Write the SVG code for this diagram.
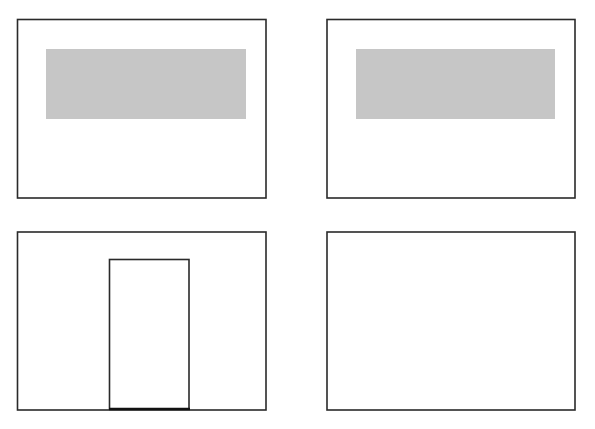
<svg xmlns="http://www.w3.org/2000/svg" width="595" height="429" viewBox="0 0 595 429">
<style>
.frame{fill:#fff;stroke:#2a2a2a;stroke-width:1.6}
.panel{fill:#c6c6c6;stroke:none}
.door{fill:#fff;stroke:#2a2a2a;stroke-width:1.6}
</style>
<rect width="595" height="429" fill="#fff"/>
<g id="view-top-left">
<rect class="frame" x="17.5" y="19.5" width="248.5" height="178.5"/>
<rect class="panel" x="46" y="49" width="200" height="70"/>
</g>
<g id="view-top-right">
<rect class="frame" x="327" y="19.5" width="248" height="178.5"/>
<rect class="panel" x="356" y="49" width="199" height="70"/>
</g>
<g id="view-bottom-left">
<rect class="frame" x="17.5" y="232" width="248.5" height="178"/>
<rect class="door" x="109.5" y="259.5" width="79.5" height="149.5"/>
<line x1="109" y1="409" x2="190" y2="409" stroke="#111" stroke-width="2.5"/>
</g>
<g id="view-bottom-right">
<rect class="frame" x="327" y="232" width="248" height="178"/>
</g>
<g id="connectors"></g>
</svg>
